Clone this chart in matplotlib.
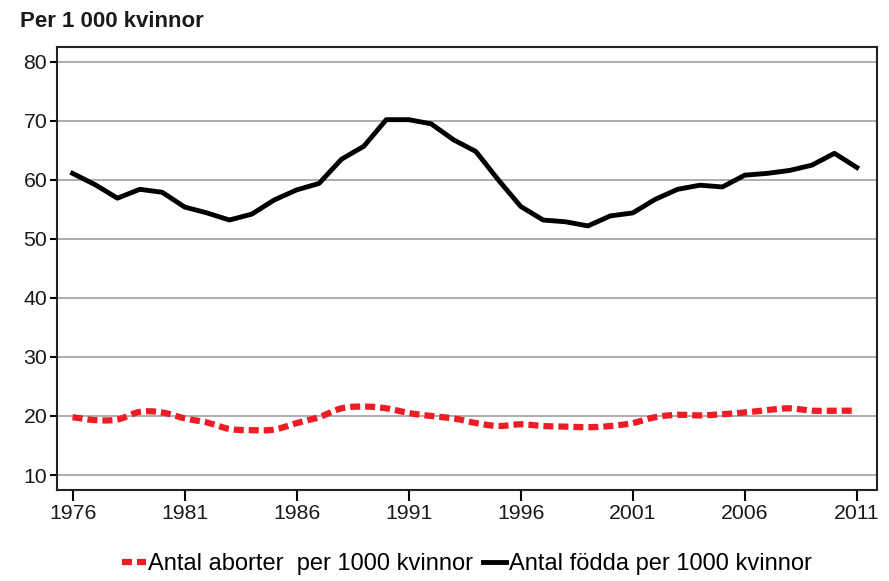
import numpy as np
import matplotlib.pyplot as plt

# Years and rates per 1 000 women
years = list(range(1976, 2012))
births = [61.1, 59.2, 56.9, 58.4, 57.9, 55.4, 54.4, 53.2, 54.2, 56.6,
          58.3, 59.4, 63.5, 65.7, 70.2, 70.2, 69.5, 66.8, 64.8, 60.0,
          55.5, 53.2, 52.9, 52.2, 53.9, 54.4, 56.7, 58.4, 59.1, 58.8,
          60.8, 61.1, 61.6, 62.5, 64.5, 62.1]
abortions = [19.8, 19.3, 19.4, 20.7, 20.6, 19.6, 18.9, 17.8, 17.6, 17.7,
             18.8, 19.8, 21.3, 21.6, 21.3, 20.5, 20.0, 19.6, 18.8, 18.3,
             18.6, 18.3, 18.2, 18.1, 18.3, 18.8, 19.8, 20.2, 20.1, 20.3,
             20.6, 21.0, 21.3, 20.9, 20.9, 20.9]
xticks = list(range(1976, 2012, 5))
yticks = list(range(10, 90, 10))


def smooth(x, y, n=12):
    # Catmull-Rom curve through the points (like Excel's smoothed line)
    x = np.asarray(x, float)
    y = np.asarray(y, float)
    m = np.gradient(y, x)
    xs, ys = [], []
    for i in range(len(x) - 1):
        h = x[i + 1] - x[i]
        t = np.linspace(0, 1, n, endpoint=False)
        h00 = 2 * t**3 - 3 * t**2 + 1
        h10 = t**3 - 2 * t**2 + t
        h01 = -2 * t**3 + 3 * t**2
        h11 = t**3 - t**2
        xs.extend(x[i] + t * h)
        ys.extend(h00 * y[i] + h10 * h * m[i] + h01 * y[i + 1] + h11 * h * m[i + 1])
    xs.append(x[-1])
    ys.append(y[-1])
    return xs, ys


plt.rcParams['font.family'] = ['Liberation Sans', 'DejaVu Sans']

fig = plt.figure(figsize=(8.89, 5.81), dpi=100)
ax = fig.add_axes([0.064, 0.157, 0.9225, 0.762])

sx, sy = smooth(years, abortions)
ax.plot(sx, sy, color='#ee1c25', linewidth=4.5, linestyle=(0, (1.6, 0.8)),
        label='Antal aborter  per 1000 kvinnor')
ax.plot(years, births, color='black', linewidth=3.5,
        label='Antal födda per 1000 kvinnor')

ax.set_xlim(1975.3, 2011.9)
ax.set_ylim(7.5, 82.5)
ax.set_xticks(xticks)
ax.set_yticks(yticks)
ax.yaxis.grid(True, color='#a0a0a0', linewidth=1.2)
ax.set_axisbelow(True)
ax.tick_params(axis='x', length=8, width=1.5, labelsize=15.3, pad=2, labelcolor='#1a1a1a')
ax.tick_params(axis='y', length=5, width=1.5, labelsize=15.3, pad=2, labelcolor='#1a1a1a')
for s in ax.spines.values():
    s.set_linewidth(1.5)
    s.set_color('#222222')

fig.text(0.022, 0.963, 'Per 1 000 kvinnor', fontsize=16, weight='bold', va='center',
         color='#1a1a1a')

ax.legend(loc='upper center', bbox_to_anchor=(0.5, -0.095), ncol=2, frameon=False,
          fontsize=17, handlelength=1.0, handletextpad=0.1, columnspacing=0.4)

plt.savefig('out.png', dpi=100, facecolor='white')
